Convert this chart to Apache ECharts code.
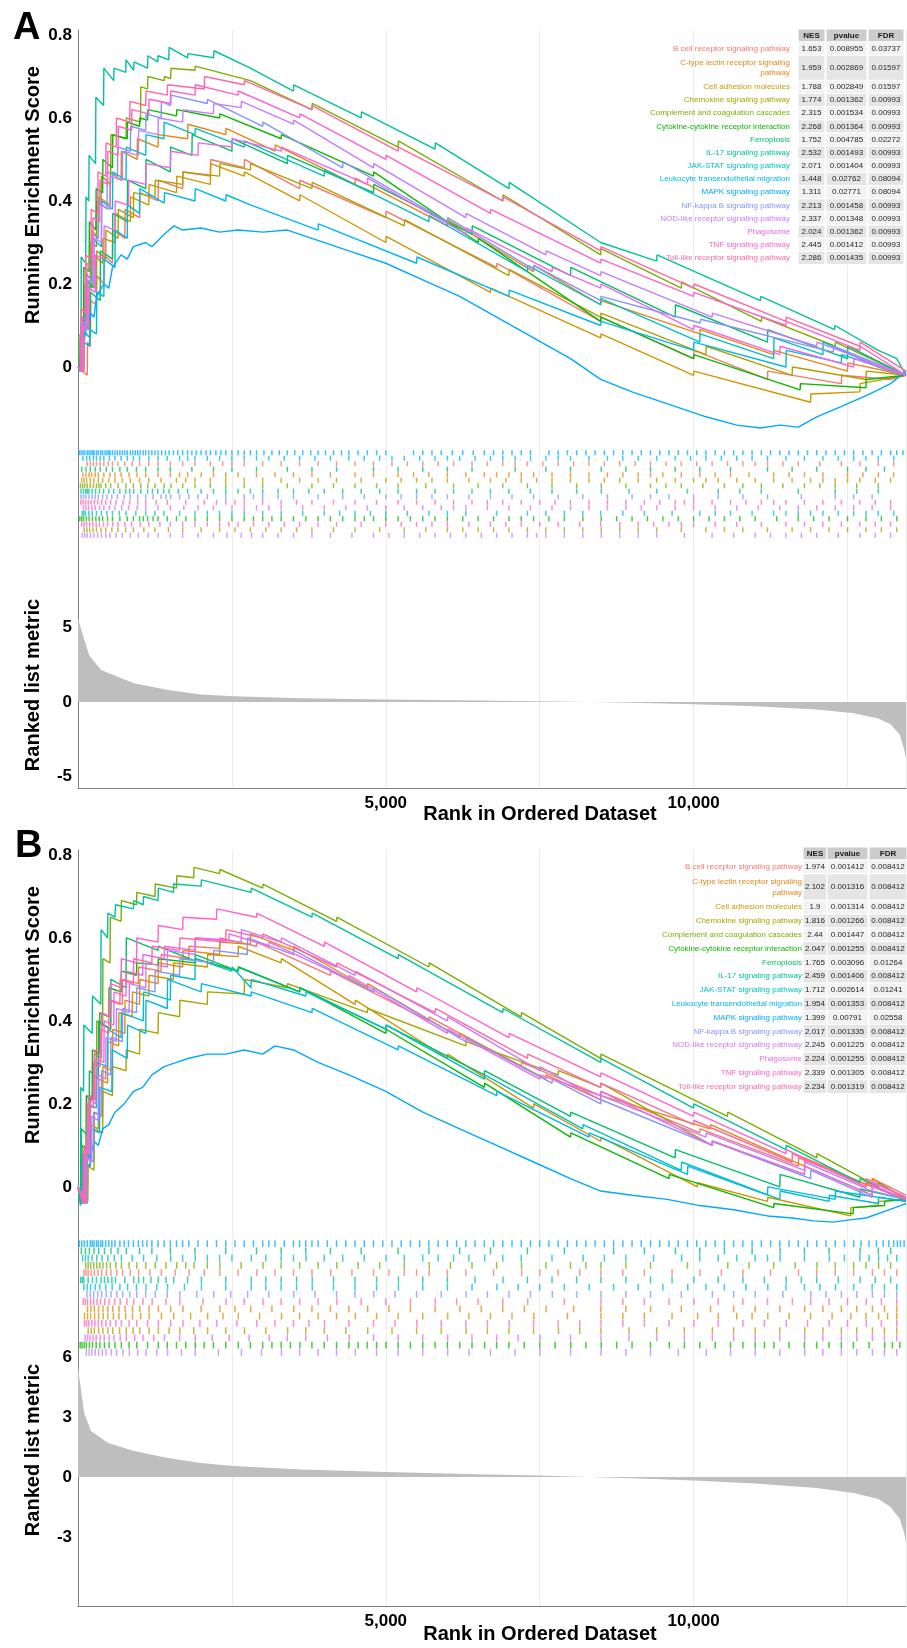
<!DOCTYPE html>
<html>
<head>
<meta charset="utf-8">
<script src="https://cdn.jsdelivr.net/npm/echarts@6/dist/echarts.min.js"></script>
<style>
  html, body { margin: 0; padding: 0; background: #fff; }
  #chart { width: 907px; height: 1648px; }
</style>
</head>
<body>
<div id="chart"></div>
<script>
const pathways = [
  'B cell receptor signaling pathway', 'C-type lectin receptor signaling pathway',
  'Cell adhesion molecules', 'Chemokine signaling pathway',
  'Complement and coagulation cascades', 'Cytokine-cytokine receptor interaction',
  'Ferroptosis', 'IL-17 signaling pathway', 'JAK-STAT signaling pathway',
  'Leukocyte transendothelial migration', 'MAPK signaling pathway',
  'NF-kappa B signaling pathway', 'NOD-like receptor signaling pathway',
  'Phagosome', 'TNF signaling pathway', 'Toll-like receptor signaling pathway'
];
const colors = ['#F8766D', '#E68613', '#CD9600', '#ABA300', '#7CAE00', '#0CB702', '#00BE67', '#00C19A',
  '#00BFC4', '#00B8E7', '#00A9FF', '#8494FF', '#C77CFF', '#ED68ED', '#FF61CC', '#FF68A1'];

// table values
const nesA = ['1.653', '1.959', '1.788', '1.774', '2.315', '2.268', '1.752', '2.532', '2.071', '1.448', '1.311', '2.213', '2.337', '2.024', '2.445', '2.286'];
const pA = ['0.008955', '0.002869', '0.002849', '0.001362', '0.001534', '0.001364', '0.004785', '0.001493', '0.001404', '0.02762', '0.02771', '0.001458', '0.001348', '0.001362', '0.001412', '0.001435'];
const fdrA = ['0.03737', '0.01597', '0.01597', '0.00993', '0.00993', '0.00993', '0.02272', '0.00993', '0.00993', '0.08094', '0.08094', '0.00993', '0.00993', '0.00993', '0.00993', '0.00993'];
const nesB = ['1.974', '2.102', '1.9', '1.816', '2.44', '2.047', '1.765', '2.459', '1.712', '1.954', '1.399', '2.017', '2.245', '2.224', '2.339', '2.234'];
const pB = ['0.001412', '0.001316', '0.001314', '0.001266', '0.001447', '0.001255', '0.003096', '0.001406', '0.002614', '0.001353', '0.00791', '0.001335', '0.001225', '0.001255', '0.001305', '0.001319'];
const fdrB = ['0.008412', '0.008412', '0.008412', '0.008412', '0.008412', '0.008412', '0.01264', '0.008412', '0.01241', '0.008412', '0.02558', '0.008412', '0.008412', '0.008412', '0.008412', '0.008412'];

const RANK_MAX = 13450;

// ranked list metric
const rankA = [0, 20, 100, 185, 375, 645, 910, 1460, 2000, 2530, 3620, 5000, 6500, 7500, 8300, 9000, 10000, 11000, 12000, 12600, 13000, 13200, 13350, 13420, 13450];
const metricA = [5.6, 5.5, 4.2, 3.1, 2.15, 1.7, 1.25, 0.8, 0.5, 0.38, 0.25, 0.17, 0.1, 0.05, 0.0, -0.05, -0.15, -0.28, -0.5, -0.75, -1.1, -1.5, -2.2, -3.2, -3.8];
const rankB = [0, 20, 100, 210, 490, 910, 1460, 2000, 2530, 3620, 5000, 6500, 7500, 8300, 9000, 10000, 11000, 12000, 12600, 13000, 13200, 13350, 13420, 13450];
const metricB = [5.6, 5.0, 3.2, 2.3, 1.7, 1.3, 0.95, 0.7, 0.55, 0.38, 0.25, 0.14, 0.08, 0.0, -0.06, -0.18, -0.32, -0.55, -0.8, -1.1, -1.5, -2.1, -2.8, -3.3];

// running enrichment score, panel A  [rank, ES]
const esA_bcell = [[0,0],[150,-0.02],[155,0.06],[200,0.05],[205,0.16],[300,0.15],[305,0.22],[420,0.2],[425,0.27],[560,0.25],[565,0.33],[760,0.31],[765,0.38],[1000,0.36],[1005,0.42],[1300,0.40],[1305,0.45],[1700,0.43],[1705,0.47],[2150,0.46],[2155,0.50],[2700,0.48],[2705,0.50],[3600,0.43],[3605,0.45],[5000,0.36],[5005,0.375],[6800,0.24],[6805,0.25],[8490,0.11],[8495,0.12],[10000,0.02],[10005,0.04],[11200,-0.03],[11205,-0.01],[12400,-0.04],[12405,-0.02],[13200,-0.03],[13450,-0.02]];
const esA_ctype = [[0,0],[80,-0.01],[85,0.10],[130,0.09],[135,0.225],[220,0.21],[225,0.33],[330,0.31],[335,0.41],[520,0.39],[525,0.47],[700,0.45],[705,0.52],[960,0.50],[965,0.55],[1300,0.53],[1305,0.56],[1780,0.55],[1785,0.585],[2400,0.56],[2405,0.575],[3200,0.52],[3205,0.535],[4500,0.44],[4505,0.455],[6000,0.34],[6005,0.355],[7400,0.23],[7405,0.245],[8490,0.15],[8495,0.16],[10100,0.08],[10105,0.09],[11300,0.03],[11305,0.04],[12500,-0.01],[12505,0.01],[13450,-0.02]];
const esA_cell = [[0,0],[60,-0.01],[65,0.12],[140,0.11],[145,0.21],[260,0.19],[265,0.27],[400,0.25],[405,0.31],[600,0.30],[605,0.37],[850,0.35],[855,0.41],[1150,0.39],[1155,0.44],[1600,0.42],[1605,0.46],[2150,0.44],[2155,0.49],[2700,0.46],[2705,0.47],[3600,0.40],[3605,0.415],[5000,0.30],[5005,0.315],[6700,0.18],[6705,0.19],[8490,0.07],[8495,0.08],[10000,-0.02],[10005,-0.01],[11900,-0.085],[11905,-0.065],[12700,-0.06],[12705,-0.04],[13450,-0.02]];
const esA_chem = [[0,0],[100,-0.01],[105,0.10],[190,0.09],[195,0.20],[300,0.19],[305,0.28],[450,0.26],[455,0.33],[650,0.31],[655,0.38],[900,0.36],[905,0.42],[1250,0.41],[1255,0.45],[1700,0.44],[1705,0.47],[2300,0.46],[2305,0.49],[2800,0.475],[2805,0.49],[3800,0.43],[3805,0.445],[5300,0.34],[5305,0.355],[7000,0.22],[7005,0.235],[8490,0.12],[8495,0.13],[10200,0.03],[10205,0.05],[11600,-0.02],[11605,0.0],[12800,-0.03],[12805,-0.01],[13450,-0.02]];
const esA_comp = [[0,0],[40,-0.01],[45,0.10],[110,0.09],[115,0.20],[200,0.19],[205,0.30],[300,0.29],[305,0.40],[375,0.39],[380,0.46],[530,0.44],[535,0.56],[780,0.55],[785,0.60],[1015,0.59],[1020,0.675],[1130,0.67],[1135,0.70],[1400,0.69],[1405,0.70],[1505,0.695],[1510,0.72],[1900,0.715],[1905,0.725],[2800,0.69],[3800,0.62],[3805,0.635],[5200,0.53],[5205,0.545],[6900,0.40],[6905,0.415],[8490,0.27],[8495,0.285],[9800,0.19],[9805,0.205],[11100,0.11],[11105,0.12],[12300,0.05],[12305,0.06],[13450,-0.02]];
const esA_cyt = [[0,0],[30,-0.01],[35,0.08],[90,0.07],[95,0.24],[180,0.23],[185,0.35],[290,0.33],[295,0.43],[400,0.42],[405,0.50],[560,0.48],[565,0.56],[800,0.55],[805,0.59],[1000,0.58],[1005,0.60],[1130,0.595],[1135,0.62],[1600,0.605],[1605,0.62],[2300,0.60],[2305,0.61],[3300,0.55],[3305,0.56],[4800,0.46],[4805,0.47],[6500,0.30],[6505,0.31],[8490,0.11],[8495,0.12],[10000,0.02],[10005,0.03],[11730,-0.055],[11735,-0.04],[12800,-0.05],[12805,-0.03],[13450,-0.02]];
const esA_ferro = [[0,0],[60,-0.01],[65,0.09],[200,0.07],[205,0.18],[360,0.16],[365,0.28],[560,0.26],[565,0.37],[800,0.35],[805,0.45],[1100,0.43],[1105,0.50],[1500,0.47],[1505,0.53],[1850,0.51],[1855,0.56],[2500,0.52],[2505,0.55],[3400,0.49],[3405,0.51],[4800,0.42],[4805,0.44],[6400,0.32],[6405,0.34],[8000,0.22],[8005,0.24],[9700,0.12],[9705,0.15],[11200,0.06],[11205,0.09],[12500,0.02],[12505,0.05],[13450,-0.02]];
const esA_il17 = [[0,0],[50,-0.01],[52,0.265],[125,0.25],[130,0.41],[175,0.40],[180,0.51],[285,0.49],[290,0.65],[415,0.63],[420,0.72],[580,0.69],[585,0.72],[775,0.71],[780,0.74],[905,0.715],[910,0.735],[1130,0.72],[1135,0.75],[1295,0.735],[1300,0.75],[1475,0.74],[1480,0.77],[1780,0.745],[1785,0.755],[2200,0.745],[2210,0.762],[2800,0.72],[3500,0.665],[3505,0.68],[4600,0.60],[4605,0.615],[5800,0.525],[5805,0.54],[7000,0.43],[7005,0.445],[8490,0.30],[9400,0.255],[9405,0.27],[10320,0.21],[11085,0.16],[11090,0.17],[12290,0.09],[12295,0.10],[13000,0.04],[13300,0.02],[13450,-0.02]];
const esA_jak = [[0,0],[70,-0.01],[75,0.12],[120,0.11],[125,0.21],[230,0.19],[235,0.31],[380,0.29],[385,0.40],[560,0.38],[565,0.47],[780,0.45],[785,0.53],[1100,0.51],[1105,0.56],[1395,0.55],[1400,0.59],[1900,0.56],[1905,0.575],[2700,0.53],[2705,0.545],[4000,0.46],[4005,0.475],[5700,0.35],[5705,0.365],[7300,0.23],[7305,0.245],[8490,0.15],[8495,0.165],[10100,0.06],[10105,0.08],[11300,0.02],[11305,0.07],[12100,0.03],[12105,0.06],[13000,0.0],[13450,-0.02]];
const esA_leuk = [[0,0],[80,-0.01],[85,0.06],[190,0.05],[195,0.09],[300,0.08],[305,0.18],[420,0.17],[425,0.26],[600,0.24],[605,0.33],[800,0.31],[805,0.39],[1000,0.37],[1005,0.43],[1400,0.395],[1405,0.42],[1900,0.40],[1905,0.43],[2400,0.40],[2405,0.415],[2810,0.39],[3900,0.33],[3905,0.345],[5500,0.25],[5505,0.265],[7000,0.17],[7005,0.185],[8490,0.10],[8495,0.11],[10000,0.04],[10005,0.06],[11500,0.0],[11505,0.04],[12400,0.01],[12405,0.03],[13450,-0.02]];
const esA_mapk = [[0,0],[30,-0.01],[60,0.04],[120,0.08],[200,0.13],[260,0.12],[300,0.17],[420,0.20],[500,0.19],[560,0.24],[700,0.27],[800,0.26],[900,0.29],[1100,0.30],[1200,0.29],[1400,0.32],[1560,0.34],[1700,0.33],[2000,0.335],[2300,0.325],[2600,0.33],[3000,0.325],[3400,0.33],[3800,0.31],[4400,0.28],[5000,0.25],[5600,0.21],[6200,0.17],[6800,0.12],[7400,0.07],[8000,0.02],[8490,-0.03],[9000,-0.06],[9600,-0.09],[10200,-0.12],[10700,-0.14],[11085,-0.147],[11400,-0.14],[11700,-0.145],[12000,-0.12],[12385,-0.096],[12830,-0.067],[13200,-0.04],[13450,-0.01]];
const esA_nfkb = [[0,0],[50,-0.01],[55,0.10],[130,0.09],[135,0.22],[230,0.21],[235,0.32],[330,0.31],[335,0.40],[470,0.38],[475,0.47],[640,0.46],[645,0.53],[850,0.52],[855,0.58],[1100,0.57],[1105,0.61],[1350,0.60],[1355,0.64],[1505,0.63],[1510,0.655],[2100,0.635],[2105,0.645],[3000,0.58],[3005,0.59],[4300,0.48],[4305,0.495],[6000,0.35],[6005,0.36],[7400,0.235],[7405,0.245],[8490,0.16],[8495,0.17],[10110,0.106],[10115,0.115],[12270,0.036],[12275,0.05],[13450,-0.02]];
const esA_nod = [[0,0],[70,-0.01],[75,0.11],[150,0.10],[155,0.21],[260,0.20],[265,0.31],[380,0.30],[385,0.39],[520,0.38],[525,0.46],[720,0.45],[725,0.52],[980,0.51],[985,0.57],[1300,0.56],[1305,0.60],[1700,0.59],[1705,0.62],[2200,0.61],[2205,0.635],[2650,0.625],[2655,0.64],[3500,0.585],[3505,0.595],[4800,0.48],[4805,0.49],[6300,0.36],[6305,0.37],[7600,0.27],[7605,0.28],[8490,0.22],[8495,0.23],[10300,0.12],[10305,0.13],[12000,0.05],[12005,0.06],[13450,-0.02]];
const esA_phago = [[0,0],[90,-0.01],[95,0.10],[170,0.09],[175,0.19],[280,0.18],[285,0.27],[420,0.26],[425,0.34],[600,0.33],[605,0.40],[820,0.39],[825,0.45],[1100,0.44],[1105,0.49],[1500,0.48],[1505,0.52],[1950,0.51],[1955,0.54],[2500,0.53],[2505,0.55],[3300,0.52],[3305,0.53],[4700,0.44],[4705,0.455],[6300,0.32],[6305,0.335],[7700,0.23],[7705,0.24],[8490,0.19],[8495,0.20],[10000,0.09],[10005,0.10],[11400,0.03],[11405,0.05],[12600,0.0],[12605,0.02],[13450,-0.02]];
const esA_tnf = [[0,0],[60,-0.01],[65,0.12],[140,0.11],[145,0.25],[240,0.24],[245,0.36],[350,0.35],[355,0.45],[480,0.44],[485,0.52],[650,0.51],[655,0.58],[870,0.57],[875,0.62],[1150,0.61],[1155,0.645],[1500,0.635],[1505,0.665],[1900,0.655],[1905,0.68],[2600,0.655],[2605,0.665],[3600,0.60],[3605,0.61],[5000,0.50],[5005,0.51],[6700,0.37],[6705,0.38],[8490,0.25],[8495,0.26],[10000,0.17],[10005,0.18],[11500,0.10],[11505,0.11],[12700,0.04],[12705,0.05],[13450,-0.02]];
const esA_toll = [[0,0],[45,-0.01],[50,0.14],[120,0.13],[125,0.27],[210,0.26],[215,0.38],[320,0.37],[325,0.47],[450,0.46],[455,0.54],[620,0.53],[625,0.60],[840,0.59],[845,0.64],[1100,0.63],[1105,0.665],[1450,0.655],[1455,0.68],[2050,0.67],[2055,0.70],[2700,0.68],[2705,0.69],[3800,0.62],[3805,0.63],[5200,0.52],[5205,0.53],[6900,0.40],[6905,0.41],[8490,0.28],[8495,0.29],[10000,0.19],[10005,0.20],[11500,0.11],[11505,0.12],[12700,0.05],[12705,0.06],[13450,-0.01]];

// running enrichment score, panel B
const esB_bcell = [[0,0],[90,-0.04],[95,0.09],[160,0.08],[165,0.22],[260,0.21],[265,0.32],[380,0.31],[385,0.39],[530,0.38],[535,0.45],[720,0.44],[725,0.50],[980,0.49],[985,0.53],[1350,0.52],[1355,0.56],[1800,0.55],[1805,0.58],[2300,0.575],[2305,0.60],[2900,0.58],[2905,0.59],[4100,0.51],[4105,0.52],[5700,0.40],[5705,0.41],[7200,0.29],[7205,0.30],[8490,0.22],[8495,0.23],[10100,0.13],[10105,0.14],[11700,0.05],[11705,0.07],[12900,0.0],[12905,0.02],[13450,-0.02]];
const esB_ctype = [[0,0],[150,-0.04],[155,0.07],[260,0.06],[265,0.18],[400,0.17],[405,0.29],[560,0.28],[565,0.38],[760,0.37],[765,0.45],[1000,0.44],[1005,0.50],[1300,0.49],[1305,0.54],[1700,0.53],[1705,0.57],[2300,0.56],[2305,0.59],[2800,0.585],[2805,0.61],[3500,0.57],[3505,0.58],[4700,0.48],[4705,0.49],[6200,0.36],[6205,0.37],[7600,0.26],[7605,0.27],[8490,0.21],[8495,0.22],[10270,0.14],[10275,0.15],[11800,0.05],[11805,0.07],[12900,0.0],[12905,0.02],[13450,-0.03]];
const esB_cell = [[0,0],[100,-0.04],[105,0.06],[200,0.05],[205,0.15],[330,0.14],[335,0.26],[480,0.25],[485,0.35],[660,0.34],[665,0.42],[880,0.41],[885,0.47],[1150,0.46],[1155,0.51],[1550,0.50],[1555,0.54],[2100,0.53],[2105,0.56],[2600,0.555],[2605,0.58],[3300,0.54],[3305,0.55],[4500,0.44],[4505,0.45],[6000,0.31],[6005,0.32],[7400,0.19],[7405,0.20],[8490,0.11],[8495,0.12],[10060,0.0],[10065,0.01],[11200,-0.035],[11205,-0.025],[12550,-0.07],[12555,-0.05],[13000,-0.045],[13005,-0.035],[13450,-0.03]];
const esB_chem = [[0,0],[160,-0.035],[165,0.05],[260,0.04],[265,0.14],[400,0.13],[405,0.23],[560,0.22],[565,0.29],[780,0.28],[785,0.33],[1000,0.32],[1005,0.38],[1300,0.37],[1305,0.42],[1650,0.41],[1655,0.45],[2100,0.44],[2105,0.47],[2700,0.465],[2705,0.50],[3400,0.48],[3405,0.49],[4700,0.42],[4705,0.43],[6300,0.34],[6305,0.35],[7800,0.27],[7805,0.28],[8490,0.24],[8495,0.25],[10300,0.10],[10305,0.11],[11800,0.03],[11805,0.05],[12900,-0.02],[12905,0.0],[13450,-0.03]];
const esB_comp = [[0,0],[120,-0.04],[125,0.08],[200,0.07],[205,0.22],[300,0.21],[305,0.40],[400,0.39],[405,0.55],[520,0.54],[525,0.65],[700,0.64],[705,0.69],[950,0.68],[955,0.71],[1250,0.70],[1255,0.73],[1600,0.72],[1605,0.75],[1880,0.745],[1885,0.77],[2300,0.755],[2305,0.765],[3000,0.72],[3005,0.73],[4200,0.64],[4205,0.65],[5700,0.53],[5705,0.54],[7200,0.41],[7205,0.42],[8490,0.31],[8495,0.32],[10550,0.17],[10555,0.18],[12000,0.07],[12005,0.08],[13000,0.0],[13005,0.01],[13450,-0.03]];
const esB_cyt = [[0,0],[60,-0.04],[65,0.10],[130,0.09],[135,0.22],[230,0.21],[235,0.33],[350,0.32],[355,0.42],[500,0.41],[505,0.48],[700,0.47],[705,0.52],[950,0.51],[955,0.54],[1300,0.535],[1305,0.55],[1900,0.54],[1905,0.55],[2600,0.52],[2605,0.53],[3600,0.47],[3605,0.48],[5000,0.37],[5005,0.38],[6600,0.24],[6605,0.25],[8000,0.12],[8005,0.13],[9600,0.02],[9605,0.03],[11300,-0.05],[11305,-0.04],[12590,-0.065],[12595,-0.05],[13100,-0.045],[13105,-0.035],[13450,-0.03]];
const esB_ferro = [[0,0],[50,-0.04],[55,0.14],[180,0.12],[185,0.28],[330,0.26],[335,0.40],[530,0.38],[535,0.50],[780,0.48],[785,0.60],[1300,0.57],[1305,0.58],[1900,0.545],[1905,0.56],[2600,0.52],[2605,0.53],[3600,0.47],[3605,0.48],[5000,0.38],[5005,0.39],[6600,0.27],[6605,0.28],[8000,0.17],[8005,0.18],[9700,0.07],[9705,0.09],[11400,0.0],[11405,0.03],[12700,-0.025],[12705,-0.005],[13450,-0.03]];
const esB_il17 = [[0,0],[40,-0.045],[45,0.24],[90,0.23],[95,0.39],[230,0.37],[235,0.46],[370,0.44],[375,0.62],[480,0.60],[485,0.66],[600,0.65],[610,0.68],[900,0.67],[905,0.69],[1060,0.68],[1065,0.70],[1300,0.69],[1305,0.72],[1550,0.71],[1555,0.73],[2000,0.725],[2005,0.74],[2810,0.71],[2815,0.72],[3800,0.65],[3805,0.66],[5200,0.55],[5205,0.56],[6900,0.42],[6905,0.43],[8490,0.30],[8495,0.31],[10000,0.19],[10005,0.20],[11500,0.09],[11505,0.10],[12700,0.01],[12705,0.02],[13450,-0.035]];
const esB_jak = [[0,0],[70,-0.04],[75,0.08],[160,0.07],[165,0.20],[300,0.19],[305,0.30],[480,0.29],[485,0.38],[700,0.36],[705,0.42],[1060,0.40],[1065,0.47],[1500,0.45],[1505,0.51],[1900,0.50],[1905,0.55],[2500,0.52],[2505,0.53],[2810,0.48],[2815,0.50],[3700,0.46],[3705,0.47],[5000,0.38],[5005,0.39],[6600,0.26],[6605,0.27],[8200,0.14],[8205,0.15],[9800,0.04],[9805,0.06],[11400,-0.03],[11405,-0.01],[12200,-0.035],[12205,-0.02],[13000,-0.04],[13005,-0.025],[13450,-0.035]];
const esB_leuk = [[0,0],[90,-0.04],[95,0.06],[200,0.05],[205,0.14],[350,0.13],[355,0.24],[550,0.23],[555,0.33],[800,0.31],[805,0.39],[1100,0.37],[1105,0.45],[1450,0.43],[1455,0.50],[2000,0.47],[2005,0.49],[2810,0.46],[2815,0.47],[3800,0.42],[3805,0.43],[5200,0.33],[5205,0.34],[6800,0.22],[6805,0.23],[8300,0.12],[8305,0.13],[9900,0.03],[9905,0.05],[11200,-0.02],[11205,0.0],[12300,-0.03],[12305,-0.01],[13450,-0.035]];
const esB_mapk = [[0,0],[60,-0.035],[100,0.02],[150,0.08],[200,0.07],[260,0.11],[330,0.10],[400,0.14],[500,0.15],[600,0.18],[750,0.20],[900,0.23],[1050,0.24],[1200,0.27],[1400,0.29],[1600,0.30],[1800,0.31],[2100,0.32],[2400,0.32],[2700,0.33],[3000,0.32],[3200,0.34],[3500,0.33],[3900,0.30],[4400,0.27],[5000,0.23],[5600,0.18],[6200,0.14],[6800,0.10],[7400,0.06],[8000,0.02],[8490,-0.01],[9000,-0.02],[9570,-0.03],[10100,-0.045],[10650,-0.055],[11200,-0.07],[11600,-0.075],[11950,-0.082],[12270,-0.085],[12500,-0.08],[12800,-0.075],[13080,-0.06],[13360,-0.045],[13450,-0.04]];
const esB_nfkb = [[0,0],[140,-0.04],[145,0.07],[250,0.06],[255,0.18],[380,0.17],[385,0.28],[530,0.27],[535,0.36],[720,0.35],[725,0.43],[950,0.42],[955,0.48],[1250,0.47],[1255,0.52],[1650,0.51],[1655,0.55],[2200,0.54],[2205,0.57],[2750,0.56],[2755,0.60],[3500,0.56],[3505,0.57],[4800,0.47],[4805,0.48],[6300,0.35],[6305,0.36],[7700,0.25],[7705,0.26],[8490,0.20],[8495,0.21],[10300,0.10],[10305,0.11],[11900,0.02],[11905,0.04],[12900,-0.025],[12905,-0.01],[13450,-0.03]];
const esB_nod = [[0,0],[130,-0.035],[135,0.07],[220,0.06],[225,0.17],[330,0.16],[335,0.27],[450,0.26],[455,0.36],[620,0.35],[625,0.43],[830,0.42],[835,0.49],[1100,0.48],[1105,0.54],[1450,0.53],[1455,0.57],[1900,0.56],[1905,0.60],[2650,0.59],[2655,0.62],[3300,0.59],[3305,0.60],[4500,0.51],[4505,0.52],[6000,0.40],[6005,0.41],[7500,0.28],[7505,0.29],[8490,0.21],[8495,0.22],[10200,0.12],[10205,0.13],[11800,0.04],[11805,0.06],[12900,-0.01],[12905,0.01],[13450,-0.025]];
const esB_phago = [[0,0],[110,-0.04],[115,0.09],[190,0.08],[195,0.21],[290,0.20],[295,0.31],[420,0.30],[425,0.40],[580,0.39],[585,0.47],[780,0.46],[785,0.52],[1050,0.51],[1055,0.56],[1400,0.55],[1405,0.58],[1900,0.57],[1905,0.60],[2450,0.595],[2455,0.61],[3100,0.58],[3105,0.59],[4400,0.50],[4405,0.51],[6000,0.37],[6005,0.38],[7500,0.26],[7505,0.27],[8490,0.22],[8495,0.23],[10300,0.10],[10305,0.11],[11800,0.03],[11805,0.05],[12900,-0.02],[12905,0.0],[13450,-0.03]];
const esB_tnf = [[0,0],[100,-0.035],[105,0.10],[170,0.09],[175,0.22],[270,0.21],[275,0.33],[380,0.32],[385,0.42],[520,0.41],[525,0.49],[700,0.48],[705,0.55],[950,0.54],[955,0.60],[1300,0.59],[1305,0.63],[1700,0.62],[1705,0.65],[2250,0.645],[2255,0.67],[2900,0.65],[2905,0.66],[4000,0.58],[4005,0.59],[5500,0.47],[5505,0.48],[7000,0.36],[7005,0.37],[8490,0.265],[8495,0.275],[10000,0.17],[10005,0.18],[11500,0.08],[11505,0.09],[12800,0.0],[12805,0.01],[13450,-0.03]];
const esB_toll = [[0,0],[80,-0.04],[85,0.08],[150,0.07],[155,0.20],[250,0.19],[255,0.30],[360,0.29],[365,0.38],[500,0.37],[505,0.45],[680,0.44],[685,0.50],[900,0.49],[905,0.55],[1200,0.54],[1205,0.58],[1650,0.57],[1655,0.60],[2400,0.59],[2405,0.62],[3000,0.60],[3005,0.61],[4200,0.53],[4205,0.54],[5800,0.42],[5805,0.43],[7300,0.31],[7305,0.32],[8490,0.24],[8495,0.25],[10000,0.15],[10005,0.16],[11600,0.06],[11605,0.08],[12800,0.0],[12805,0.02],[13450,-0.025]];

// hit positions (rank), panel A
const hitsA_bcell = [150,200,250,300,360,420,490,560,650,760,880,1000,1150,1300,1500,1700,1900,2150,2350,2500,2700,3000,3300,3600,3900,4200,4500,4800,5100,5350,5600,5850,6100,6400,6650,6900,7100,7300,7550,7800,8050,8300,8550,8800,9050,9300,9550,9800,10050,10300,10550,10800,11000,11200,11450,11700,12050,12400,12700,13000,13250];
const hitsA_ctype = [80,130,180,220,280,330,420,520,600,700,830,960,1100,1300,1500,1650,1780,2000,2200,2400,2600,2900,3200,3500,3800,4100,4500,4800,5200,5450,5700,6000,6300,6600,6800,7000,7200,7400,7700,8000,8300,8600,8850,9100,9300,9500,9800,10100,10350,10600,10900,11300,11550,11800,12100,12500,12750,13000,13250];
const hitsA_cell = [60,100,140,200,260,330,400,500,600,720,850,1000,1150,1350,1600,1750,1900,2150,2400,2700,3000,3300,3600,3900,4200,4600,5000,5250,5500,5750,6000,6350,6700,6950,7200,7450,7700,8000,8300,8550,8800,9100,9400,9700,10000,10200,10400,10700,11000,11300,11600,11900,12100,12300,12500,12700,12950,13200];
const hitsA_chem = [100,145,190,245,300,375,450,550,650,775,900,1070,1250,1470,1700,2000,2300,2550,2800,3050,3300,3550,3800,4150,4500,4900,5300,5650,6000,6250,6500,6750,7000,7300,7600,7900,8200,8500,8800,9100,9400,9800,10200,10500,10800,11200,11600,11900,12200,12500,12800,13050,13300];
const hitsA_comp = [40,75,110,150,200,250,300,340,375,450,530,650,780,900,1020,1135,1250,1400,1510,1700,1900,2150,2400,2700,3000,3400,3800,4150,4500,4850,5200,5650,6100,6500,6900,7300,7700,8100,8500,8900,9300,9550,9800,10150,10500,10800,11100,11450,11800,12050,12300,12650,13000];
const hitsA_cyt = [30,60,90,135,180,235,290,345,400,480,560,680,800,900,1000,1060,1130,1220,1300,1450,1600,1750,1900,2100,2300,2500,2700,2850,3000,3150,3300,3500,3700,3900,4100,4300,4500,4650,4800,5000,5200,5400,5600,5800,6000,6250,6500,6750,7000,7200,7400,7650,7900,8200,8500,8750,9000,9250,9500,9750,10000,10250,10500,10750,11000,11350,11700,11950,12200,12500,12800,13050,13300];
const hitsA_ferro = [60,130,200,280,360,460,560,680,800,950,1100,1300,1500,1850,2200,2500,2900,3400,3800,4200,4800,5200,5600,6000,6400,7100,7600,8000,8500,8900,9300,9700,10100,10600,11200,11600,12000,12500,12800,13100];
const hitsA_il17 = [50,90,125,150,175,230,285,350,415,500,580,680,775,840,905,1020,1130,1210,1295,1390,1480,1630,1780,2000,2200,2400,2600,2800,3000,3250,3500,3750,4000,4300,4600,4900,5200,5500,5800,6100,6400,6700,7000,7350,7700,8100,8500,8950,9400,9900,10400,10750,11100,11700,12300,12650,13000];
const hitsA_jak = [70,95,120,175,230,300,380,470,560,670,780,940,1100,1250,1395,1650,1900,2100,2300,2500,2700,3000,3300,3650,4000,4250,4500,4750,5000,5350,5700,6000,6300,6800,7300,7600,7900,8200,8490,8850,9200,9650,10100,10350,10600,10950,11300,11500,11700,11900,12100,12350,12600,12800,13000,13250];
const hitsA_leuk = [80,140,190,250,300,360,420,510,600,700,800,900,1000,1150,1300,1450,1650,1780,1900,2100,2300,2500,2700,2900,3100,3350,3600,3850,4100,4400,4650,4900,5100,5300,5550,5800,6000,6200,6450,6700,6900,7100,7350,7600,7800,8000,8300,8600,8850,9100,9400,9700,9950,10200,10450,10700,10950,11200,11500,11800,12100,12350,12600,12800,13000,13250];
const hitsA_mapk = [20,50,80,110,150,180,210,240,260,300,330,370,400,440,470,500,520,560,600,640,680,720,760,800,850,890,930,970,1010,1060,1100,1150,1200,1250,1300,1360,1420,1480,1550,1620,1700,1780,1850,1920,2000,2080,2150,2240,2320,2400,2500,2600,2700,2800,2900,3020,3150,3270,3400,3520,3650,3780,3900,4020,4150,4280,4400,4550,4700,4850,5000,5450,5600,5750,5900,6080,6250,6420,6600,6750,6900,7050,7200,7350,7650,7800,7950,8100,8250,8400,8550,8700,8850,9000,9150,9300,9450,9600,9750,9900,10050,10200,10350,10500,10650,10800,10950,11100,11250,11400,11550,11700,11850,12000,12150,12300,12450,12600,12750,12900,13050,13200,13300,13400];
const hitsA_nfkb = [50,90,130,180,230,280,330,400,470,550,640,750,850,970,1100,1220,1350,1430,1505,1650,1800,1950,2100,2400,2700,2850,3000,3250,3500,3900,4300,4650,5000,5250,5500,5750,6000,6350,6700,7050,7400,7800,8200,8600,9000,9300,9600,10000,10400,10800,11200,11750,12300,12600,12900];
const hitsA_nod = [70,110,150,205,260,320,380,450,520,620,720,850,980,1140,1300,1500,1700,1950,2200,2420,2650,2820,3000,3250,3500,3800,4100,4450,4800,5050,5300,5550,5800,6050,6300,6550,6800,7050,7300,7450,7600,7900,8200,8500,8800,9100,9400,9850,10300,10650,11000,11250,11500,11750,12000,12350,12700,12950,13200];
const hitsA_phago = [90,130,170,225,280,350,420,510,600,710,820,960,1100,1300,1500,1720,1950,2200,2500,2700,2900,3100,3300,3650,4000,4350,4700,5000,5300,5600,5900,6100,6300,6650,7000,7350,7700,8000,8300,8600,8900,9150,9400,9700,10000,10350,10700,11050,11400,11700,12000,12300,12600,12900,13200];
const hitsA_tnf = [60,100,140,190,240,295,350,415,480,565,650,760,870,1010,1150,1330,1500,1700,1900,2100,2300,2450,2600,2850,3100,3350,3600,3900,4200,4600,5000,5250,5500,5750,6000,6350,6700,6950,7200,7500,7800,8150,8490,8800,9100,9350,9600,9800,10000,10350,10700,11100,11500,11800,12100,12400,12700,12950,13200];
const hitsA_toll = [45,80,120,165,210,265,320,385,450,530,620,730,840,970,1100,1270,1450,1750,2050,2250,2400,2550,2700,3000,3300,3550,3800,4150,4500,4850,5200,5500,5800,6100,6400,6650,6900,7200,7500,7750,8000,8300,8600,8900,9200,9450,9700,9850,10000,10300,10600,10850,11100,11300,11500,11800,12100,12400,12700,12950,13200];

// hit positions (rank), panel B
const hitsB_bcell = [95,130,165,215,265,325,385,460,535,630,725,850,985,1170,1355,1580,1805,2050,2305,2600,2905,3200,3500,3800,4105,4450,4800,5050,5300,5500,5705,6000,6300,6750,7205,7500,7800,8150,8495,8850,9200,9650,10105,10450,10800,11250,11705,12000,12300,12600,12905,13100,13300];
const hitsB_ctype = [155,210,265,335,405,485,565,665,765,885,1005,1155,1305,1505,1705,2000,2305,2550,2805,3150,3505,3800,4100,4400,4705,5050,5400,5800,6205,6550,6900,7250,7605,8050,8495,8900,9300,9800,10275,10650,11000,11400,11805,12100,12400,12650,12905,13100,13300];
const hitsB_cell = [105,155,205,270,335,410,485,575,665,775,885,1020,1155,1355,1555,1830,2105,2355,2605,2950,3305,3600,3900,4200,4505,4850,5200,5600,6005,6350,6700,7050,7405,7950,8495,8850,9200,9650,10065,10400,10700,10950,11205,11550,11900,12250,12555,12800,13005,13150,13300];
const hitsB_chem = [165,215,265,335,405,485,565,675,785,895,1005,1155,1305,1480,1655,1880,2105,2400,2705,3050,3405,3700,4000,4350,4705,5100,5500,5900,6305,6650,7000,7400,7805,8150,8495,8950,9400,9850,10305,10650,11000,11400,11805,12100,12400,12650,12905,13100,13300];
const hitsB_comp = [125,165,205,255,305,355,405,465,525,615,705,830,955,1100,1255,1430,1605,1750,1885,2100,2305,2650,3005,3300,3600,3900,4205,4550,4900,5300,5705,6050,6400,6800,7205,7600,8000,8250,8495,8900,9300,9900,10555,10900,11300,11650,12005,12300,12600,12800,13005,13200];
const hitsB_cyt = [35,65,100,135,185,235,295,355,430,505,600,705,830,955,1130,1305,1450,1600,1750,1905,2050,2200,2400,2605,2800,3000,3150,3300,3450,3605,3800,4000,4200,4400,4550,4700,4850,5005,5200,5400,5600,5800,6000,6200,6400,6605,6800,7000,7250,7500,7750,8005,8250,8500,8750,9000,9300,9605,9850,10100,10350,10600,10800,11000,11150,11305,11550,11800,12000,12200,12400,12595,12850,13105,13230,13350];
const hitsB_ferro = [55,120,185,260,335,430,535,650,785,1000,1200,1500,1900,2400,2900,3300,3700,4100,4600,5200,5700,6200,6700,7300,7900,8700,9200,9705,10100,10500,10950,11405,11800,12200,12705,13000,13200];
const hitsB_il17 = [45,70,95,165,235,300,375,430,485,550,610,760,905,985,1065,1185,1305,1430,1555,1780,2005,2400,2815,3050,3300,3550,3805,4150,4500,4850,5205,5600,6000,6450,6905,7300,7700,8100,8495,8900,9300,9650,10005,10400,10800,11150,11505,11750,12000,12350,12705,12950,13200];
const hitsB_jak = [75,120,165,230,305,390,485,590,705,880,1065,1280,1505,1700,1905,2100,2300,2500,2815,3050,3300,3500,3705,4000,4300,4650,5005,5300,5600,5850,6100,6350,6605,6900,7200,7700,8205,8550,8900,9350,9805,10100,10400,10700,11000,11200,11405,11800,12205,12450,12700,12850,13005,13150,13300];
const hitsB_leuk = [95,150,205,280,355,450,555,680,805,950,1105,1280,1455,1730,2005,2400,2815,3050,3300,3550,3805,4150,4500,4850,5205,5600,6000,6400,6805,7150,7500,7900,8305,8700,9100,9500,9905,10200,10500,10850,11205,11500,11800,12050,12305,12600,12900,13100,13300];
const hitsB_mapk = [20,60,100,150,200,230,260,300,330,370,400,450,500,550,600,680,750,820,900,980,1050,1120,1200,1300,1400,1500,1600,1700,1800,1950,2100,2250,2400,2550,2700,2850,3000,3100,3200,3350,3500,3600,3700,3800,3900,4050,4200,4350,4500,4650,4800,4950,5100,5250,5400,5550,5700,5850,6000,6150,6300,6450,6600,6750,6900,7050,7200,7350,7500,7650,7800,7950,8100,8250,8400,8550,8700,8850,9000,9150,9300,9450,9600,9750,9900,10050,10200,10350,10500,10650,10800,10950,11100,11250,11400,11550,11700,11850,12000,12150,12300,12450,12600,12720,12850,12970,13080,13170,13250,13310,13360,13420];
const hitsB_nfkb = [145,200,255,320,385,460,535,630,725,840,955,1100,1255,1450,1655,1930,2205,2480,2755,3100,3505,3850,4200,4500,4805,5150,5500,5900,6305,6650,7000,7350,7705,8100,8495,8900,9300,9800,10305,10650,11000,11450,11905,12150,12400,12650,12905,13100,13300];
const hitsB_nod = [135,180,225,280,335,395,455,540,625,730,835,970,1105,1280,1455,1680,1905,2280,2655,2980,3305,3600,3900,4200,4505,4850,5200,5600,6005,6350,6700,7100,7505,8000,8495,8900,9300,9750,10205,10600,11000,11400,11805,12100,12400,12650,12905,13100,13300];
const hitsB_phago = [115,155,195,245,295,360,425,505,585,685,785,920,1055,1230,1405,1650,1905,2180,2455,2780,3105,3400,3700,4050,4405,4800,5200,5600,6005,6400,6800,7150,7505,8000,8495,8950,9400,9850,10305,10650,11000,11400,11805,12100,12400,12650,12905,13100,13300];
const hitsB_tnf = [105,140,175,225,275,330,385,455,525,615,705,830,955,1130,1305,1505,1705,1980,2255,2580,2905,3200,3500,3750,4005,4400,4800,5150,5505,5900,6300,6650,7005,7400,7800,8150,8495,8850,9200,9600,10005,10400,10800,11150,11505,11850,12200,12500,12805,13050,13300];
const hitsB_toll = [85,120,155,205,255,310,365,435,505,595,685,795,905,1055,1205,1430,1655,2030,2405,2700,3005,3300,3600,3900,4205,4600,5000,5400,5805,6150,6500,6900,7305,7900,8495,8850,9200,9600,10005,10400,10800,11200,11605,11900,12200,12500,12805,13050,13300];

const esA = [esA_bcell, esA_ctype, esA_cell, esA_chem, esA_comp, esA_cyt, esA_ferro, esA_il17, esA_jak, esA_leuk, esA_mapk, esA_nfkb, esA_nod, esA_phago, esA_tnf, esA_toll];
const esB = [esB_bcell, esB_ctype, esB_cell, esB_chem, esB_comp, esB_cyt, esB_ferro, esB_il17, esB_jak, esB_leuk, esB_mapk, esB_nfkb, esB_nod, esB_phago, esB_tnf, esB_toll];
const hitsA = [hitsA_bcell, hitsA_ctype, hitsA_cell, hitsA_chem, hitsA_comp, hitsA_cyt, hitsA_ferro, hitsA_il17, hitsA_jak, hitsA_leuk, hitsA_mapk, hitsA_nfkb, hitsA_nod, hitsA_phago, hitsA_tnf, hitsA_toll];
const hitsB = [hitsB_bcell, hitsB_ctype, hitsB_cell, hitsB_chem, hitsB_comp, hitsB_cyt, hitsB_ferro, hitsB_il17, hitsB_jak, hitsB_leuk, hitsB_mapk, hitsB_nfkb, hitsB_nod, hitsB_phago, hitsB_tnf, hitsB_toll];
// which gene set sits on each rug row (top to bottom)
const hitRowsA = [10, 9, 0, 6, 1, 2, 4, 7, 11, 15, 13, 8, 5, 14, 3, 12];
const hitRowsB = [10, 6, 8, 4, 0, 7, 9, 11, 15, 1, 2, 14, 3, 13, 5, 12];

const FONT = '"Liberation Sans", Arial, Helvetica, sans-serif';
const AXIS_GREY = '#808080';

const chart = echarts.init(document.getElementById('chart'));

// panel layout (px): ES block, rug block, ranked-list block
const panels = [
  { es: esA, hits: hitsA, rows: hitRowsA, rank: rankA, metric: metricA,
    esTop: 30, esH: 420, esMin: -0.2, hitsH: 88, rankH: 250,
    rankMin: -5.77, rankMax: 11.0, rankTicks: [-5, 0, 5] },
  { es: esB, hits: hitsB, rows: hitRowsB, rank: rankB, metric: metricB,
    esTop: 850, esH: 390, esMin: -0.128, hitsH: 116, rankH: 250,
    rankMin: -6.45, rankMax: 6.05, rankTicks: [-3, 0, 3, 6] }
];

const grid = [], xAxis = [], yAxis = [], series = [];

panels.forEach((p, k) => {
  const g0 = k * 3;
  const hitsTop = p.esTop + p.esH;
  const rankTop = hitsTop + p.hitsH;
  grid.push({ left: 78, right: 1, top: p.esTop, height: p.esH });
  grid.push({ left: 78, right: 1, top: hitsTop, height: p.hitsH });
  grid.push({ left: 78, right: 1, top: rankTop, height: p.rankH });

  for (let j = 0; j < 3; j++) {
    const bottom = j === 2;
    xAxis.push({
      type: 'value', gridIndex: g0 + j, min: 0, max: RANK_MAX, interval: 2500,
      axisLine: { show: bottom, onZero: false, lineStyle: { color: AXIS_GREY, width: 1 } },
      axisTick: { show: false },
      axisLabel: {
        show: bottom, customValues: [5000, 10000],
        formatter: (v) => v.toLocaleString('en-US'),
        color: '#000', fontWeight: 'bold', fontSize: 17, fontFamily: FONT, margin: 7
      },
      splitLine: { show: true, lineStyle: { color: '#EDEDED', width: 1 } }
    });
  }

  const yLabel = { color: '#000', fontWeight: 'bold', fontSize: 17, fontFamily: FONT, margin: 6 };
  yAxis.push({
    type: 'value', gridIndex: g0, min: p.esMin, max: 0.812,
    axisLine: { show: true, onZero: false, lineStyle: { color: AXIS_GREY } },
    axisTick: { show: false }, splitLine: { show: false },
    axisLabel: Object.assign({ customValues: [0, 0.2, 0.4, 0.6, 0.8],
      formatter: (v) => (v === 0 ? '0' : v.toFixed(1)) }, yLabel)
  });
  yAxis.push({
    type: 'value', gridIndex: g0 + 1, min: 0, max: 16, inverse: true,
    axisLine: { show: true, onZero: false, lineStyle: { color: AXIS_GREY } },
    axisTick: { show: false }, splitLine: { show: false }, axisLabel: { show: false }
  });
  yAxis.push({
    type: 'value', gridIndex: g0 + 2, min: p.rankMin, max: p.rankMax,
    axisLine: { show: true, onZero: false, lineStyle: { color: AXIS_GREY } },
    axisTick: { show: false }, splitLine: { show: false },
    axisLabel: Object.assign({ customValues: p.rankTicks, formatter: (v) => String(v) }, yLabel)
  });

  // running enrichment score curves
  p.es.forEach((curve, i) => {
    series.push({
      type: 'line', xAxisIndex: g0, yAxisIndex: g0, data: curve,
      showSymbol: false, symbol: 'none', animation: false, silent: true,
      lineStyle: { color: colors[i], width: 1.4 }, z: 3
    });
  });

  // hit rug
  const tickH = p.hitsH / 16 - 0.4;
  p.rows.forEach((setIdx, r) => {
    series.push({
      type: 'scatter', xAxisIndex: g0 + 1, yAxisIndex: g0 + 1,
      data: p.hits[setIdx].map((h) => [h, r + 0.5]),
      symbol: 'rect', symbolSize: [1.5, tickH], animation: false, silent: true,
      itemStyle: { color: colors[setIdx], opacity: 0.75 }
    });
  });

  // ranked list metric
  series.push({
    type: 'line', xAxisIndex: g0 + 2, yAxisIndex: g0 + 2,
    data: p.rank.map((r, i) => [r, p.metric[i]]),
    showSymbol: false, symbol: 'none', animation: false, silent: true,
    lineStyle: { width: 0 }, areaStyle: { color: '#BEBEBE', opacity: 1 }
  });
});

// stats tables
function tableGraphics(t, nes, pv, fdr) {
  const els = [];
  const heads = ['NES', 'pvalue', 'FDR'];
  const font = (w) => `${w} ${t.fs}px ${FONT}`;
  t.cols.forEach((c, j) => {
    els.push({ type: 'rect', shape: { x: c[0], y: t.top, width: c[1], height: t.headH },
      style: { fill: '#CCCCCC', stroke: '#fff', lineWidth: 1 } });
    els.push({ type: 'text', x: c[0] + c[1] / 2, y: t.top + t.headH / 2,
      style: { text: heads[j], fill: '#1a1a1a', font: font('bold'), align: 'center', verticalAlign: 'middle' } });
  });
  let y = t.top + t.headH;
  pathways.forEach((name, i) => {
    const wrap = name.length > 38;
    const h = wrap ? t.rowH * 1.92 : t.rowH;
    const vals = [nes[i], pv[i], fdr[i]];
    t.cols.forEach((c, j) => {
      els.push({ type: 'rect', shape: { x: c[0], y: y, width: c[1], height: h },
        style: { fill: i % 2 ? '#E5E5E5' : '#F2F2F2', stroke: '#fff', lineWidth: 1 } });
      els.push({ type: 'text', x: c[0] + c[1] / 2, y: y + h / 2,
        style: { text: vals[j], fill: '#262626', font: font('normal'), align: 'center', verticalAlign: 'middle' } });
    });
    const label = wrap ? name.replace(/ (\S+)$/, '\n$1') : name;
    els.push({ type: 'text', x: t.labelRight, y: y + h / 2,
      style: { text: label, fill: colors[i], font: font('normal'), align: 'right',
        verticalAlign: 'middle', lineHeight: t.rowH * 0.8 } });
    y += h;
  });
  return els;
}

const tableA = { labelRight: 790, cols: [[798, 27], [826, 41], [868, 36]], top: 29, headH: 13, rowH: 13.15, fs: 8 };
const tableB = { labelRight: 802, cols: [[803, 24], [827, 41], [869, 38]], top: 847, headH: 13, rowH: 13.8, fs: 8 };

function txt(x, y, text, size, rot) {
  return { type: 'text', x: x, y: y, rotation: rot || 0,
    style: { text: text, fill: '#000', font: `bold ${size}px ${FONT}`, align: 'center', verticalAlign: 'middle' } };
}

const graphic = [].concat(
  tableGraphics(tableA, nesA, pA, fdrA),
  tableGraphics(tableB, nesB, pB, fdrB),
  [
    { type: 'text', x: 13, y: 28.5, style: { text: 'A', fill: '#000', font: `bold 38px ${FONT}`, align: 'left', verticalAlign: 'middle' } },
    { type: 'text', x: 15, y: 846.5, style: { text: 'B', fill: '#000', font: `bold 38px ${FONT}`, align: 'left', verticalAlign: 'middle' } },
    txt(33, 195, 'Running Enrichment Score', 20, Math.PI / 2),
    txt(33, 1015, 'Running Enrichment Score', 20, Math.PI / 2),
    txt(33, 685, 'Ranked list metric', 20, Math.PI / 2),
    txt(33, 1450, 'Ranked list metric', 20, Math.PI / 2),
    txt(540, 814, 'Rank in Ordered Dataset', 20),
    txt(540, 1634, 'Rank in Ordered Dataset', 20)
  ]
);

chart.setOption({
  animation: false,
  backgroundColor: '#fff',
  grid: grid,
  xAxis: xAxis,
  yAxis: yAxis,
  series: series,
  graphic: { elements: graphic.map((e) => Object.assign({ z: 100 }, e)) }
});
</script>
</body>
</html>
